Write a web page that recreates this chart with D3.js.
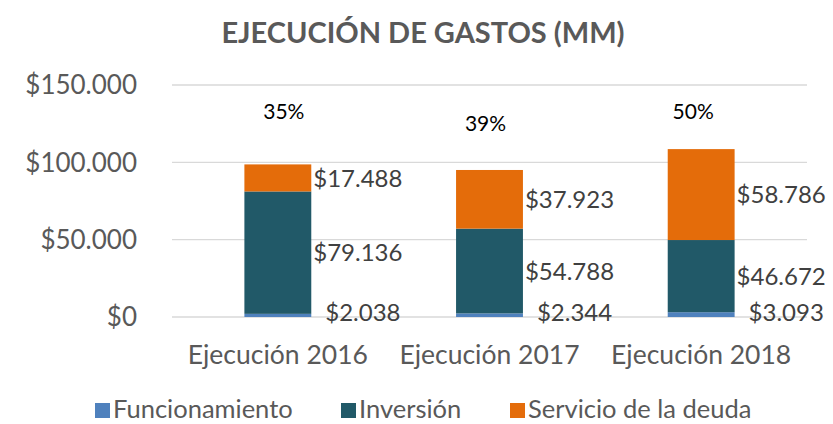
<!DOCTYPE html>
<html>
<head>
<meta charset="utf-8">
<script src="https://cdn.jsdelivr.net/npm/d3@7/dist/d3.min.js"></script>
<style>
  body { margin: 0; background: #fff; }
  text { font-family: Lato, "Open Sans", sans-serif; fill: #595959; }
</style>
</head>
<body>
<div id="chart"></div>
<script>
// data
var categories = ["Ejecución 2016", "Ejecución 2017", "Ejecución 2018"];
var series = ["Funcionamiento", "Inversión", "Servicio de la deuda"];
var funcionamiento = [2038, 2344, 3093];
var inversion = [79136, 54788, 46672];
var servicio = [17488, 37923, 58786];
var percentLabels = ["35%", "39%", "50%"];
var yTicks = [0, 50000, 100000, 150000];

var colors = ["#4f81bd", "#215968", "#e46c0a"];

var svg = d3.select("#chart").append("svg").attr("width", 833).attr("height", 424),
  margin = {top: 85, right: 26, bottom: 107, left: 172},
  width = 833 - margin.left - margin.right,
  height = 424 - margin.top - margin.bottom,
  g = svg.append("g").attr("transform", "translate(" + margin.left + "," + margin.top + ")");

var rows = categories.map(function (c, i) {
  return {cat: c, "Funcionamiento": funcionamiento[i], "Inversión": inversion[i], "Servicio de la deuda": servicio[i]};
});

var x = d3.scaleBand().domain(categories).range([0, width]).paddingInner(0).paddingOuter(0);
var y = d3.scaleLinear().domain([0, 150000]).range([height, 0]);
var z = d3.scaleOrdinal().domain(series).range(colors);
var barW = x.bandwidth() * 0.316;

var fmt = function (v) { return "$" + d3.format(",")(v).replace(/,/g, "."); };

// title
svg.append("text")
  .attr("x", 423).attr("y", 43)
  .attr("text-anchor", "middle")
  .style("font-size", "29px").style("font-weight", "bold")
  .text("EJECUCIÓN DE GASTOS (MM)");

// gridlines + y labels
g.selectAll(".grid").data(yTicks).enter().append("line")
  .attr("x1", 0).attr("x2", width)
  .attr("y1", function (d) { return y(d); }).attr("y2", function (d) { return y(d); })
  .attr("stroke", "#d9d9d9").attr("stroke-width", 1.3);

g.selectAll(".ylab").data(yTicks).enter().append("text")
  .attr("x", -35).attr("y", function (d) { return y(d); })
  .attr("dy", "0.36em")
  .attr("text-anchor", "end")
  .style("font-size", "26px")
  .text(fmt);

var stack = d3.stack().keys(series)(rows);

var layer = g.selectAll(".serie").data(stack).enter().append("g")
  .attr("fill", function (d) { return z(d.key); });

layer.selectAll("rect").data(function (d) { return d; }).enter().append("rect")
  .attr("x", function (d) { return x(d.data.cat) + (x.bandwidth() - barW) / 2; })
  .attr("width", barW)
  .attr("y", function (d) { return y(d[1]); })
  .attr("height", function (d) { return y(d[0]) - y(d[1]); });

// value labels, right of the bars
layer.selectAll(".val").data(function (d, si) {
  return d.map(function (p) { p.si = si; p.key = d.key; return p; });
}).enter().append("text")
  .attr("x", function (d) {
    var right = x(d.data.cat) + (x.bandwidth() + barW) / 2;
    return right + (d.si === 0 ? 14 : 2);
  })
  .attr("y", function (d) {
    if (d.si === 0) return y(0) - 5;
    return (y(d[0]) + y(d[1])) / 2;
  })
  .attr("dy", "0.36em")
  .style("font-size", "24px")
  .style("fill", "#404040")
  .text(function (d) { return fmt(d.data[d.key]); });

// percentage labels above
g.selectAll(".pct").data(percentLabels).enter().append("text")
  .attr("x", function (d, i) { return x(categories[i]) + x.bandwidth() / 2 + [6, -4, -8][i]; })
  .attr("y", function (d, i) { return y([133000, 125000, 133000][i]); })
  .attr("dy", "0.36em")
  .attr("text-anchor", "middle")
  .style("font-size", "21px")
  .style("fill", "#000")
  .text(function (d) { return d; });

// x axis labels
g.selectAll(".xlab").data(categories).enter().append("text")
  .attr("x", function (d) { return x(d) + x.bandwidth() / 2; })
  .attr("y", height + 47)
  .attr("text-anchor", "middle")
  .style("font-size", "26.5px")
  .text(function (d) { return d; });

// legend
var legX = [95, 341, 510];
var leg = svg.selectAll(".leg").data(series).enter().append("g")
  .attr("transform", function (d, i) { return "translate(" + legX[i] + ",400)"; });
leg.append("rect").attr("width", 15).attr("height", 15).attr("y", 3)
  .attr("fill", function (d) { return z(d); });
leg.append("text").attr("x", 18).attr("y", 9).attr("dy", "0.36em")
  .style("font-size", "25.5px")
  .text(function (d) { return d; });
</script>
</body>
</html>
